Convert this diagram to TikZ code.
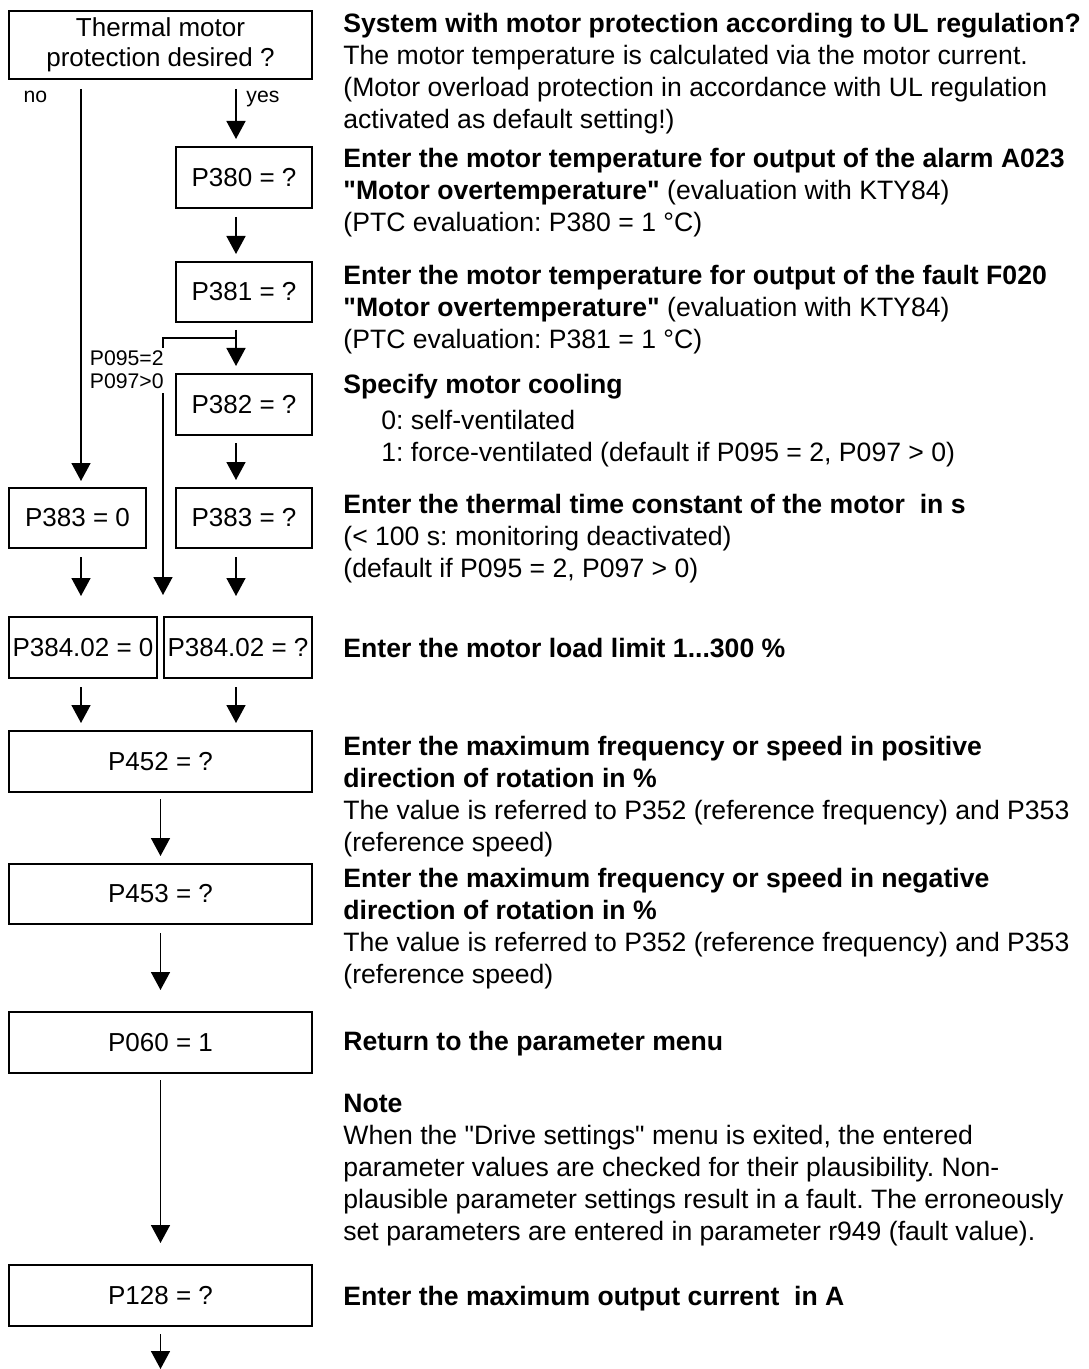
\documentclass[tikz,border=0pt]{standalone}
\usepackage{fontspec}
\setmainfont{Liberation Sans}[Ligatures=TeXOff]
\frenchspacing
\usetikzlibrary{arrows.meta}
\begin{document}
\begin{tikzpicture}[x=0.5pt,y=-0.5pt,
  box/.style={draw, line width=1pt, inner sep=0pt, align=center,
    font=\fontsize{13}{15}\selectfont},
  ln/.style={line width=0.8pt},
  arr/.style={line width=0.8pt, -{Triangle[length=9pt,width=9.5pt]}},
  desc/.style={anchor=base west, align=left, inner sep=0pt,
    font=\fontsize{13.3}{16}\selectfont},
  lbl/.style={inner sep=0pt, font=\fontsize{10.6}{11.5}\selectfont}]
\useasboundingbox (0,0) rectangle (1088,1369);

% boxes
\node[box, minimum width=151.5pt, minimum height=34pt] (top) at (160.5,45) {Thermal motor\\protection desired ?};
\node[box, minimum width=68pt, minimum height=30.5pt] (p380) at (244,177.5) {P380 = ?};
\node[box, minimum width=68pt, minimum height=30pt] (p381) at (244,292) {P381 = ?};
\node[box, minimum width=68pt, minimum height=30.5pt] (p382) at (244,404.5) {P382 = ?};
\node[box, minimum width=68.5pt, minimum height=30pt] (p3830) at (77.5,518) {P383 = 0};
\node[box, minimum width=68pt, minimum height=30pt] (p383q) at (244,518) {P383 = ?};
\node[box, minimum width=74pt, minimum height=30.5pt] (p3840) at (83,647.5) {P384.02 = 0};
\node[box, minimum width=74pt, minimum height=30.5pt] (p384q) at (238,647.5) {P384.02 = ?};
\node[box, minimum width=151.5pt, minimum height=30.5pt] (p452) at (160.5,761.5) {P452 = ?};
\node[box, minimum width=151.5pt, minimum height=30pt] (p453) at (160.5,894) {P453 = ?};
\node[box, minimum width=151.5pt, minimum height=30.5pt] (p060) at (160.5,1042.5) {P060 = 1};
\node[box, minimum width=151.5pt, minimum height=30.5pt] (p128) at (160.5,1295.5) {P128 = ?};

% helper coordinates
\coordinate (cl) at (81,0);
\coordinate (cr) at (236,0);
\coordinate (j) at (236,338);
\coordinate (b1) at (163,348);
\coordinate (b2) at (163,393);
\coordinate (b3) at (163,595);
\coordinate (fin) at (160.5,1369);

% labels (base anchor = baseline of last line)
\node[lbl, anchor=base] (no) at (35.5,103) {no};
\node[lbl, anchor=base west] (yes) at (246,103) {yes};
\node[lbl, anchor=base east, align=right] (cond) at (164,388) {P095=2\\P097>0};

% connectors
\draw[arr, shorten >=3pt] ([yshift=-4.5pt]top.south -| cl) -- (p3830.north -| cl);
\draw[arr, shorten >=3.5pt] ([yshift=-4.5pt]top.south -| cr) -- (p380.north -| cr);
\draw[arr, shorten >=3.5pt] ([yshift=-4pt]p380.south -| cr) -- (p381.north -| cr);
\draw[arr, shorten >=3.5pt] ([yshift=-3.5pt]p381.south -| cr) -- (p382.north -| cr);
\draw[ln] (j) -| (b1);
\draw[arr] (b2) -- (b3);
\draw[arr, shorten >=3.5pt] ([yshift=-3.5pt]p382.south -| cr) -- (p383q.north -| cr);
\draw[arr] ([yshift=-4pt]p3830.south -| cl) -- ++(0,39);
\draw[arr] ([yshift=-4pt]p383q.south -| cr) -- ++(0,39);
\draw[arr, shorten >=3.5pt] ([yshift=-4pt]p3840.south -| cl) -- (p452.north -| cl);
\draw[arr, shorten >=3.5pt] ([yshift=-4pt]p384q.south -| cr) -- (p452.north -| cr);
\draw[arr, shorten >=3.5pt] ([yshift=-3pt]p452.south) -- (p453.north);
\draw[arr, shorten >=10.5pt] ([yshift=-4pt]p453.south) -- (p060.north);
\draw[arr, shorten >=10.5pt] ([yshift=-3pt]p060.south) -- (p128.north);
\draw[arr] ([yshift=-3.5pt]p128.south) -- (fin);

% descriptions (placed by baseline of their last line)
\node[desc] (d1) at (343,129) {\textbf{System with motor protection according to UL regulation?}\\
The motor temperature is calculated via the motor current.\\
(Motor overload protection in accordance with UL regulation\\
activated as default setting!)};
\node[desc] (d2) at (343,232) {\textbf{Enter the motor temperature for output of the alarm A023}\\
\textbf{"Motor overtemperature"} (evaluation with KTY84)\\
(PTC evaluation: P380 = 1 °C)};
\node[desc] (d3) at (343,349) {\textbf{Enter the motor temperature for output of the fault F020}\\
\textbf{"Motor overtemperature"} (evaluation with KTY84)\\
(PTC evaluation: P381 = 1 °C)};
\node[desc] (d4) at (343,461) {\textbf{Specify motor cooling}\\[2pt]
\hspace*{19pt}0: self-ventilated\\
\hspace*{19pt}1: force-ventilated (default if P095 = 2, P097 > 0)};
\node[desc] (d5) at (343,577) {\textbf{Enter the thermal time constant of the motor\ \ in s}\\
(< 100 s: monitoring deactivated)\\
(default if P095 = 2, P097 > 0)};
\node[desc] (d6) at (343,657) {\textbf{Enter the motor load limit 1...300 \%}};
\node[desc] (d7) at (343,851) {\textbf{Enter the maximum frequency or speed in positive}\\
\textbf{direction of rotation in \%}\\
The value is referred to P352 (reference frequency) and P353\\
(reference speed)};
\node[desc] (d8) at (343,983) {\textbf{Enter the maximum frequency or speed in negative}\\
\textbf{direction of rotation in \%}\\
The value is referred to P352 (reference frequency) and P353\\
(reference speed)};
\node[desc] (d9) at (343,1050) {\textbf{Return to the parameter menu}};
\node[desc] (d10) at (343,1240) {\textbf{Note}\\
When the "Drive settings" menu is exited, the entered\\
parameter values are checked for their plausibility. Non-\\
plausible parameter settings result in a fault. The erroneously\\
set parameters are entered in parameter r949 (fault value).};
\node[desc] (d11) at (343,1305) {\textbf{Enter the maximum output current\ \ in A}};
\end{tikzpicture}
\end{document}
